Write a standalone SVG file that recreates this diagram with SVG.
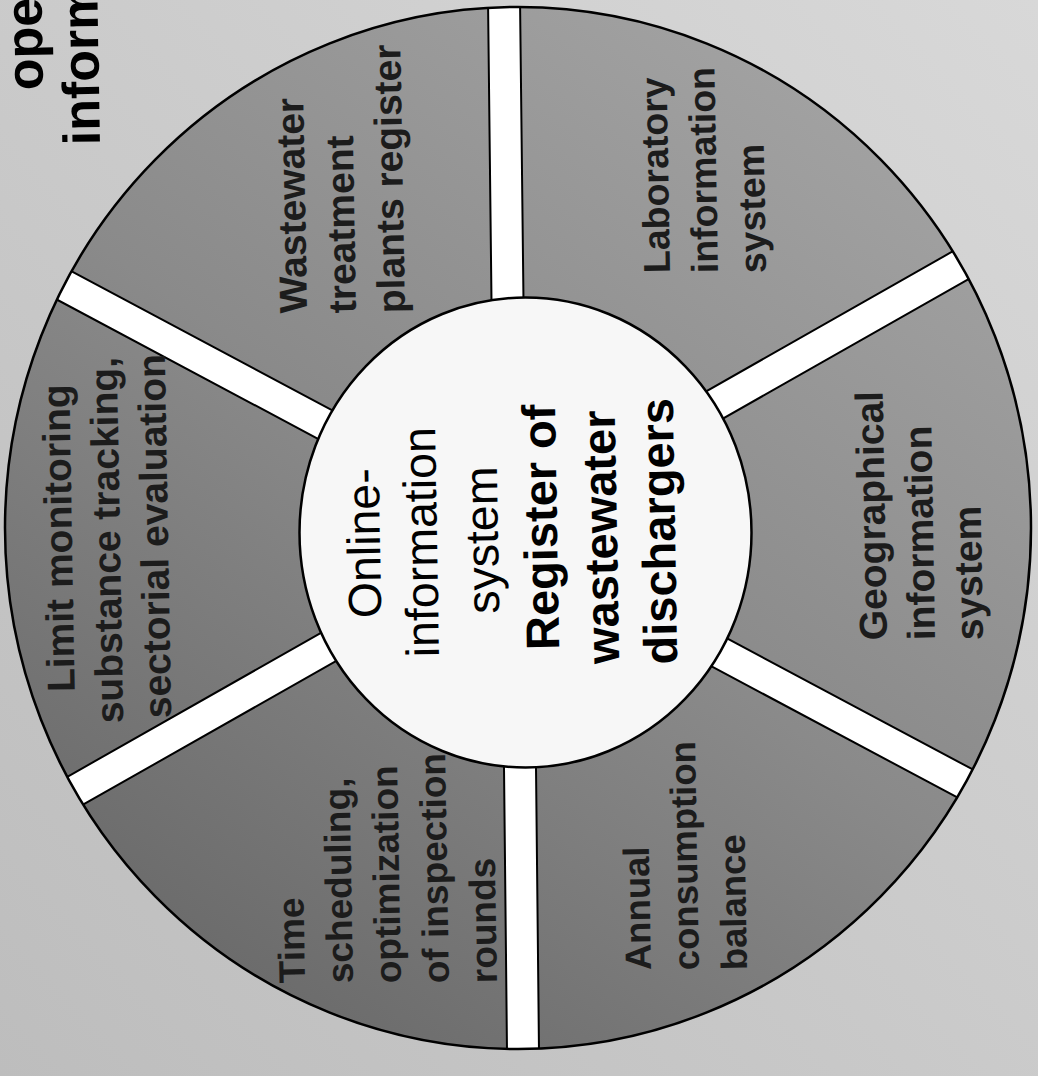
<svg xmlns="http://www.w3.org/2000/svg" width="1038" height="1076" viewBox="0 0 1038 1076">
<defs>
  <linearGradient id="bg" x1="1" y1="0" x2="0" y2="1">
    <stop offset="0" stop-color="#d8d8d8"/>
    <stop offset="1" stop-color="#bdbdbd"/>
  </linearGradient>
  <linearGradient id="ring" x1="0.85" y1="0.05" x2="0.2" y2="1">
    <stop offset="0" stop-color="#a4a4a4"/>
    <stop offset="0.5" stop-color="#8a8a8a"/>
    <stop offset="1" stop-color="#676767"/>
  </linearGradient>
  <clipPath id="outerClip"><ellipse cx="518" cy="528" rx="513" ry="521"/></clipPath>
</defs>
<style>
  .sec { font-family: "Liberation Sans", Arial, sans-serif; font-weight: bold; font-size: 39px; fill: #1c1c1c; }
  .ctr { font-family: "Liberation Sans", Arial, sans-serif; font-size: 46.5px; fill: #000; text-anchor: middle; }
  .b { font-weight: bold; font-size: 47px; }
  .corner { font-family: "Liberation Sans", Arial, sans-serif; font-weight: bold; font-size: 52px; fill: #000; }
  .gap { fill: #fff; stroke: #000; stroke-width: 2; }
  .edge { fill: none; stroke: #000; stroke-width: 2.5; }
</style>
<rect width="1038" height="1076" fill="url(#bg)"/>
<g id="page-text">
  <text class="corner" transform="translate(43,90) rotate(-91)">oper</text>
  <text class="corner" transform="translate(100,145) rotate(-91)">inform</text>
</g>
<g id="wheel">
  <ellipse cx="518" cy="528" rx="513" ry="521" fill="url(#ring)"/>
</g>
<g id="connectors" clip-path="url(#outerClip)">
  <polygon class="gap" points="487.9,-10 519.9,-10 524,345 492,345"/>
  <polygon class="gap" points="503.5,720 535.5,720 539.3,1080 507.3,1080"/>
  <polygon class="gap" points="52,260.8 365.7,428.1 350.7,456.3 37,289"/>
  <polygon class="gap" points="979.2,236.3 995,264.1 686.8,439.1 671,411.3"/>
  <polygon class="gap" points="46,788.9 352.7,614.9 368.5,642.7 61.8,816.7"/>
  <polygon class="gap" points="1000,784 985,812.2 672.3,645.4 687.3,617.2"/>
</g>
<ellipse class="edge" cx="518" cy="528" rx="513" ry="521"/>
<g id="center">
  <ellipse cx="525.5" cy="532.5" rx="226" ry="235" fill="#f7f7f7" stroke="#000" stroke-width="2.5"/>
  <text class="ctr" transform="translate(380,543) rotate(-91)">Online-</text>
  <text class="ctr" transform="translate(437,542) rotate(-91)">information</text>
  <text class="ctr" transform="translate(498,540) rotate(-91)">system</text>
  <text class="ctr b" transform="translate(557,527) rotate(-91)">Register of</text>
  <text class="ctr b" transform="translate(617,537) rotate(-91)">wastewater</text>
  <text class="ctr b" transform="translate(675,531) rotate(-91)">dischargers</text>
</g>
<g id="wastewater-treatment">
  <text class="sec" transform="translate(307,313) rotate(-91)">Wastewater</text>
  <text class="sec" transform="translate(356,313) rotate(-91)">treatment</text>
  <text class="sec" transform="translate(405,313) rotate(-91)">plants register</text>
</g>
<g id="laboratory">
  <text class="sec" style="font-size:37.5px" transform="translate(670,273) rotate(-91)">Laboratory</text>
  <text class="sec" style="font-size:37.5px" transform="translate(718,273) rotate(-91)">information</text>
  <text class="sec" style="font-size:37.5px" transform="translate(766,273) rotate(-91)">system</text>
</g>
<g id="geographical">
  <text class="sec" transform="translate(887,640) rotate(-91)">Geographical</text>
  <text class="sec" transform="translate(935,640) rotate(-91)">information</text>
  <text class="sec" transform="translate(983,640) rotate(-91)">system</text>
</g>
<g id="annual-consumption">
  <text class="sec" style="font-size:36.5px" transform="translate(651,970) rotate(-91)">Annual</text>
  <text class="sec" style="font-size:36.5px" transform="translate(699,970) rotate(-91)">consumption</text>
  <text class="sec" style="font-size:36.5px" transform="translate(747,970) rotate(-91)">balance</text>
</g>
<g id="time-scheduling">
  <text class="sec" style="font-size:37px" transform="translate(305,983) rotate(-91)">Time</text>
  <text class="sec" style="font-size:37px" transform="translate(353,983) rotate(-91)">scheduling,</text>
  <text class="sec" style="font-size:37px" transform="translate(401,983) rotate(-91)">optimization</text>
  <text class="sec" style="font-size:37px" transform="translate(449,983) rotate(-91)">of inspection</text>
  <text class="sec" style="font-size:37px" transform="translate(497,983) rotate(-91)">rounds</text>
</g>
<g id="limit-monitoring">
  <text class="sec" text-anchor="middle" transform="translate(72,538) rotate(-91)">Limit monitoring</text>
  <text class="sec" text-anchor="middle" transform="translate(120,540) rotate(-91)">substance tracking,</text>
  <text class="sec" text-anchor="middle" transform="translate(168,536) rotate(-91)">sectorial evaluation</text>
</g>
</svg>
